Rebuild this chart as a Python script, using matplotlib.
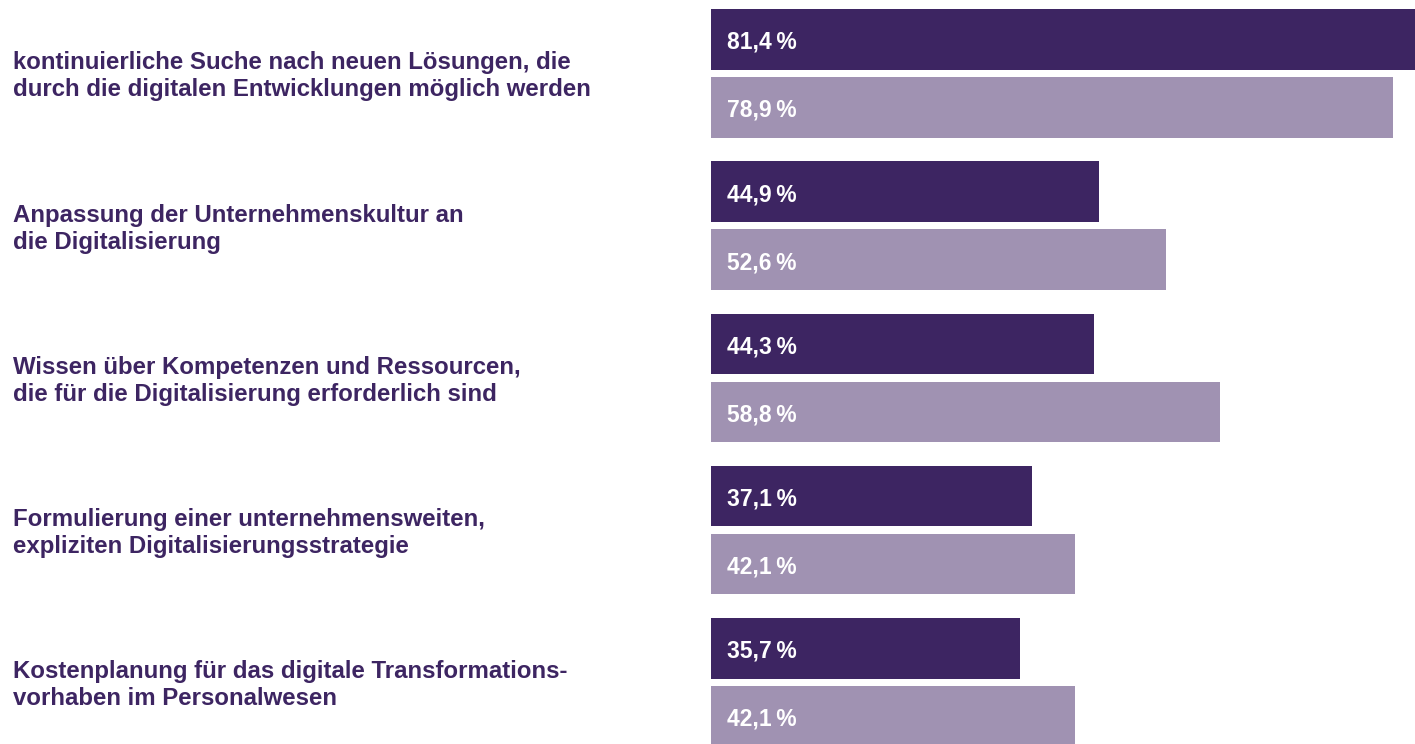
import matplotlib
matplotlib.use("Agg")
import matplotlib.pyplot as plt

categories = [
    "kontinuierliche Suche nach neuen Lösungen, die\ndurch die digitalen Entwicklungen möglich werden",
    "Anpassung der Unternehmenskultur an\ndie Digitalisierung",
    "Wissen über Kompetenzen und Ressourcen,\ndie für die Digitalisierung erforderlich sind",
    "Formulierung einer unternehmensweiten,\nexpliziten Digitalisierungsstrategie",
    "Kostenplanung für das digitale Transformations-\nvorhaben im Personalwesen",
]
series_dark = [81.4, 44.9, 44.3, 37.1, 35.7]
series_light = [78.9, 52.6, 58.8, 42.1, 42.1]

DARK = "#3d2562"
LIGHT = "#a092b2"
FONT = "Liberation Sans"

W, H = 1415, 744
fig = plt.figure(figsize=(W / 100, H / 100), dpi=100)
ax = fig.add_axes([711 / W, 0, 1 - 711 / W, 1])

bar_h = 0.397
off = 0.2233
ys = list(range(len(categories)))
ax.barh([y - off for y in ys], series_dark, height=bar_h, color=DARK, align="center")
ax.barh([y + off for y in ys], series_light, height=bar_h, color=LIGHT, align="center")

ax.set_xlim(0, 81.4)
ax.set_ylim(4.405, -0.4815)
ax.axis("off")

def fmt(v):
    return f"{v:.1f}".replace(".", ",") + "\u2009%"

for y, v in zip(ys, series_dark):
    ax.text(1.85, y - off + 0.02, fmt(v), color="white", fontsize=16.5, fontweight="bold",
            family=[FONT, "DejaVu Sans"], va="center", ha="left")
for y, v in zip(ys, series_light):
    ax.text(1.85, y + off + 0.02, fmt(v), color="white", fontsize=16.5, fontweight="bold",
            family=[FONT, "DejaVu Sans"], va="center", ha="left")

# category labels on the left, in figure-x / data-y coordinates
trans = matplotlib.transforms.blended_transform_factory(fig.transFigure, ax.transData)
for y, c in zip(ys, categories):
    ax.text(13 / W, y + 0.02, c, transform=trans, color=DARK, fontsize=17.25,
            fontweight="bold", family=FONT, va="center", ha="left", linespacing=1.22)

fig.savefig("out.png", dpi=100)
